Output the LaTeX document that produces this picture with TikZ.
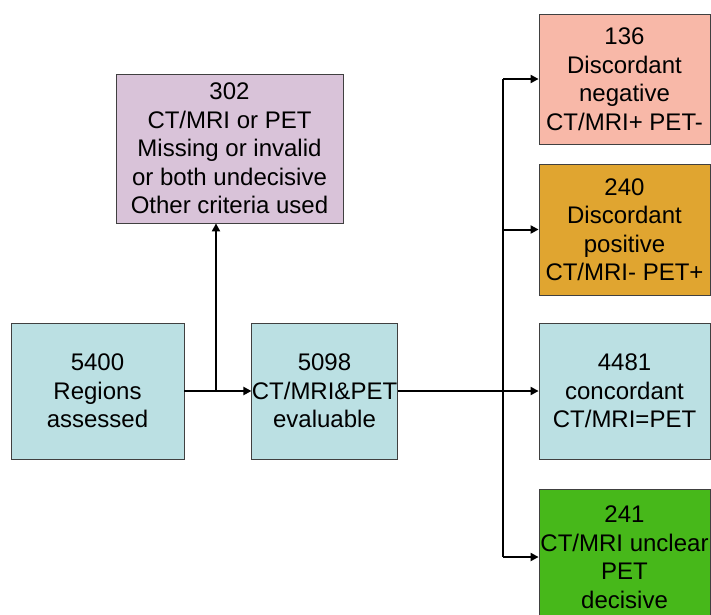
\documentclass[tikz,border=0pt]{standalone}
\usepackage{fontspec}
\setmainfont{Liberation Sans}
\usetikzlibrary{arrows.meta}
\definecolor{cpurple}{HTML}{D9C3D9}
\definecolor{cblue}{HTML}{BBE0E3}
\definecolor{csalmon}{HTML}{F8B8A8}
\definecolor{cgold}{HTML}{E0A530}
\definecolor{cgreen}{HTML}{47B81A}
\definecolor{cborder}{HTML}{404040}
\tikzset{
  box/.style={draw=cborder, line width=0.8pt, align=center, inner sep=0pt,
    font=\fontsize{24}{28.5}\selectfont},
  arr/.style={line width=2pt, -{Triangle[length=8pt,width=8pt]}},
  ln/.style={line width=2pt}
}
\begin{document}
\begin{tikzpicture}[x=1pt,y=1pt]
\useasboundingbox (0,0) rectangle (711,-614);
\clip (0,0) rectangle (711,-614);
\fill[white] (0,0) rectangle (711,-614);
\node[box, fill=cpurple, minimum width=227pt, minimum height=149pt] (p302) at (229.5,-148.5)
  {302\\CT/MRI or PET \\ Missing or invalid\\or both undecisive\\Other criteria used};
\node[box, fill=cblue, minimum width=173pt, minimum height=136pt] (n5400) at (97.5,-391)
  {5400\\Regions\\assessed};
\node[box, fill=cblue, minimum width=145pt, minimum height=136pt] (n5098) at (324.5,-391)
  {5098\\CT/MRI\&PET\\evaluable};
\node[box, fill=csalmon, minimum width=171pt, minimum height=130pt] (n136) at (624.5,-79)
  {136\\Discordant\\negative\\CT/MRI+ PET-};
\node[box, fill=cgold, minimum width=171pt, minimum height=131pt] (n240) at (624.5,-229.5)
  {240\\Discordant\\positive\\CT/MRI- PET+};
\node[box, fill=cblue, minimum width=171pt, minimum height=136pt] (n4481) at (624.5,-391)
  {4481\\concordant\\CT/MRI=PET};
\node[box, fill=cgreen, minimum width=171pt, minimum height=136pt] (n241) at (624.5,-557)
  {241\\CT/MRI unclear\\PET\\decisive};
\coordinate (b1) at (216,-391);
\coordinate (b2) at (503,-391);
\draw[arr] (n5400.east) -- (n5098.west);
\draw[arr] (b1) -- (b1 |- p302.south);
\draw[arr] (n5098.east) -- (n4481.west);
\draw[ln] (b2 |- n136.west) -- (b2 |- n241.west);
\draw[arr] (b2 |- n136.west) -- (n136.west);
\draw[arr] (b2 |- n240.west) -- (n240.west);
\draw[arr] (b2 |- n241.west) -- (n241.west);
\end{tikzpicture}
\end{document}
